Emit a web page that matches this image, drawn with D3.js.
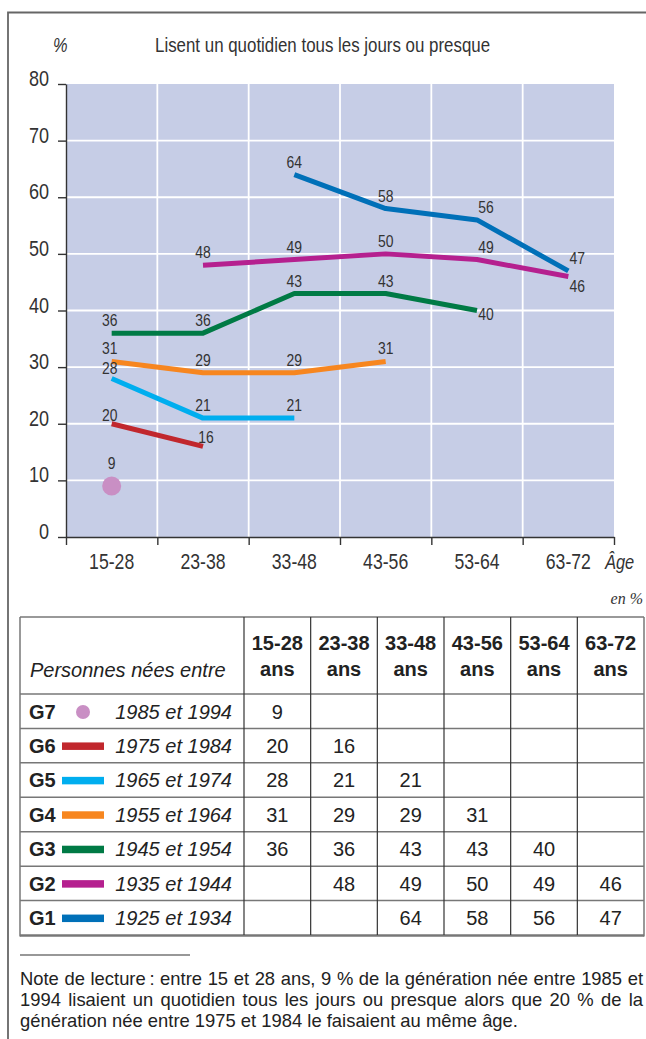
<!DOCTYPE html>
<html>
<head>
<meta charset="utf-8">
<script src="https://cdn.jsdelivr.net/npm/d3@7"></script>
<style>
  body { margin: 0; background: #fff; }
  svg { display: block; }
</style>
</head>
<body>
<svg id="chart"></svg>
<script>
// tranches d'age
var ages = ["15-28", "23-38", "33-48", "43-56", "53-64", "63-72"];
var generations = ["G7", "G6", "G5", "G4", "G3", "G2", "G1"];
var birthYears = ["1985 et 1994", "1975 et 1984", "1965 et 1974", "1955 et 1964",
                  "1945 et 1954", "1935 et 1944", "1925 et 1934"];
var genColors = ["#c98fc4", "#c1272d", "#00aeef", "#f7861f", "#007a45", "#b5208f", "#0070b8"];

// % lisant un quotidien, par tranche d'age (null = pas de valeur)
var g7 = [9, null, null, null, null, null];
var g6 = [20, 16, null, null, null, null];
var g5 = [28, 21, 21, null, null, null];
var g4 = [31, 29, 29, 31, null, null];
var g3 = [36, 36, 43, 43, 40, null];
var g2 = [null, 48, 49, 50, 49, 46];
var g1 = [null, null, 64, 58, 56, 47];
var series = [g7, g6, g5, g4, g3, g2, g1];

var yTicks = [0, 10, 20, 30, 40, 50, 60, 70, 80];

var sans = "'Liberation Sans', Arial, sans-serif";
var squeeze = 0.82;   // police etroite simulee

var W = 646, H = 1039;
var svg = d3.select("#chart").attr("width", W).attr("height", H);

// texte etroit : on comprime horizontalement autour du point d'ancrage
function narrow(sel, x, y){
  return sel.attr("x", 0).attr("y", 0)
    .attr("transform", "translate(" + x + "," + y + ") scale(" + squeeze + ",1)")
    .style("font-family", sans);
}

// cadre
svg.append("path")
  .attr("d", "M8," + H + "V12.5H" + W)
  .attr("fill", "none").attr("stroke", "#666").attr("stroke-width", 1.8);

var plot = {left: 66, right: 614, top: 84, bottom: 537};

var x = d3.scaleBand().domain(ages).range([plot.left, plot.right]);
var xb = d3.scaleLinear().domain([0, ages.length]).range([plot.left, plot.right]);
var y = d3.scaleLinear().domain([0, 80]).range([plot.bottom, plot.top]);

// titre
narrow(svg.append("text"), 53, 52)
  .style("font-size", "20px").style("font-style", "italic")
  .attr("fill", "#333").text("%");
narrow(svg.append("text"), 155, 52)
  .style("font-size", "20.6px")
  .attr("fill", "#333").text("Lisent un quotidien tous les jours ou presque");

// fond
svg.append("rect")
  .attr("x", plot.left).attr("y", plot.top)
  .attr("width", plot.right - plot.left).attr("height", plot.bottom - plot.top)
  .attr("fill", "#c6cde6");

// grille
svg.append("g").selectAll("line")
  .data(yTicks.filter(function(d){ return d > 0 && d < 80; }))
  .join("line")
  .attr("x1", plot.left).attr("x2", plot.right)
  .attr("y1", function(d){ return y(d); }).attr("y2", function(d){ return y(d); })
  .attr("stroke", "#fff").attr("stroke-width", 1.8);

svg.append("g").selectAll("line")
  .data(d3.range(1, ages.length))
  .join("line")
  .attr("x1", function(d){ return xb(d); }).attr("x2", function(d){ return xb(d); })
  .attr("y1", plot.top).attr("y2", plot.bottom)
  .attr("stroke", "#fff").attr("stroke-width", 1.8);

// axe y
var yAxis = svg.append("g")
  .attr("transform", "translate(" + plot.left + ",0)")
  .call(d3.axisLeft(y).tickValues(yTicks).tickSize(8).tickSizeOuter(0));
yAxis.selectAll("path, line").attr("stroke", "#333").attr("stroke-width", 1.4);
yAxis.selectAll("text").each(function(){
  narrow(d3.select(this), -17, 1.5).attr("dy", null);
});
yAxis.selectAll("text")
  .style("font-size", "22px").attr("fill", "#333").attr("text-anchor", "end");

// axe x : graduations aux limites des tranches
var xTickAxis = svg.append("g")
  .attr("transform", "translate(0," + plot.bottom + ")")
  .call(d3.axisBottom(xb).ticks(ages.length).tickFormat("").tickSize(8).tickSizeOuter(0));
xTickAxis.selectAll("path, line").attr("stroke", "#333").attr("stroke-width", 1.4);

var xLabAxis = svg.append("g")
  .attr("transform", "translate(0," + plot.bottom + ")")
  .call(d3.axisBottom(x).tickSize(0));
xLabAxis.select(".domain").remove();
xLabAxis.selectAll("text").each(function(){
  narrow(d3.select(this), 0, 32).attr("dy", null);
});
xLabAxis.selectAll("text").style("font-size", "21.5px").attr("fill", "#333");

narrow(svg.append("text"), 605, 569)
  .style("font-size", "20px").style("font-style", "italic")
  .attr("fill", "#333").text("Âge");

// courbes
var cx = function(i){ return x(ages[i]) + x.bandwidth() / 2; };
var line = d3.line()
  .defined(function(d){ return d != null; })
  .x(function(d, i){ return cx(i); })
  .y(function(d){ return y(d); });

var lines = svg.append("g");
series.forEach(function(s, gi){
  var n = s.filter(function(d){ return d != null; }).length;
  if (n > 1) {
    lines.append("path")
      .attr("d", line(s))
      .attr("fill", "none")
      .attr("stroke", genColors[gi])
      .attr("stroke-width", 5)
      .attr("stroke-linejoin", "round");
  } else {
    s.forEach(function(d, i){
      if (d == null) return;
      lines.append("circle")
        .attr("cx", cx(i)).attr("cy", y(d)).attr("r", 9.5)
        .attr("fill", genColors[gi]);
    });
  }
});

// etiquettes : decalages particuliers
var labelShift = {
  "0|0": [0, -23], "1|0": [-2, -9], "1|1": [3, -9], "2|0": [-2, -10],
  "4|4": [9, 3], "5|5": [9, 9]
};
var labels = svg.append("g").attr("fill", "#333").attr("text-anchor", "middle");
series.forEach(function(s, gi){
  s.forEach(function(d, i){
    if (d == null) return;
    var sh = labelShift[gi + "|" + i] || [i >= 4 ? 9 : (i == 0 ? -2 : 0), -13];
    narrow(labels.append("text"), cx(i) + sh[0], y(d) + sh[1] + 6)
      .style("font-size", "17px")
      .text(d);
  });
});

// tableau
svg.append("text").attr("x", 643).attr("y", 604).attr("text-anchor", "end")
  .style("font-family", "'Liberation Serif', 'DejaVu Serif', serif")
  .style("font-size", "16px").style("font-style", "italic")
  .attr("fill", "#333").text("en %");

var tab = {left: 20, split: 244, right: 644, top: 617, head: 694, bottom: 935};
var tc = d3.scaleBand().domain(ages).range([tab.split, tab.right]);
var tr = d3.scaleBand().domain(generations).range([tab.head, tab.bottom]);

var table = svg.append("g");

// lignes horizontales
table.selectAll("line.h")
  .data([tab.top, tab.head].concat(generations.slice(1).map(function(g){ return tr(g); })))
  .join("line").attr("class", "h")
  .attr("x1", tab.left).attr("x2", tab.right)
  .attr("y1", function(d){ return d; }).attr("y2", function(d){ return d; })
  .attr("stroke", "#777").attr("stroke-width", 1.5);
table.append("line")
  .attr("x1", tab.left).attr("x2", tab.right)
  .attr("y1", tab.bottom + 0.5).attr("y2", tab.bottom + 0.5)
  .attr("stroke", "#777").attr("stroke-width", 2.5);

// lignes verticales
table.selectAll("line.v")
  .data([tab.split].concat(ages.slice(1).map(function(a){ return tc(a); })))
  .join("line").attr("class", "v")
  .attr("x1", function(d){ return d; }).attr("x2", function(d){ return d; })
  .attr("y1", tab.top).attr("y2", tab.bottom)
  .attr("stroke", "#333").attr("stroke-width", 1.2);
table.selectAll("line.b")
  .data([tab.left, tab.right])
  .join("line").attr("class", "b")
  .attr("x1", function(d){ return d; }).attr("x2", function(d){ return d; })
  .attr("y1", tab.top).attr("y2", tab.bottom + 1.5)
  .attr("stroke", "#777").attr("stroke-width", 1.5);

// en-tete
table.append("text").attr("x", 30).attr("y", 677)
  .style("font-family", sans).style("font-size", "20px").style("font-style", "italic")
  .attr("fill", "#222").text("Personnes nées entre");
ages.forEach(function(a){
  var t = table.append("text")
    .attr("x", tc(a) + tc.bandwidth() / 2).attr("text-anchor", "middle")
    .style("font-family", sans).style("font-size", "20px").style("font-weight", "bold")
    .attr("fill", "#222");
  t.append("tspan").attr("x", tc(a) + tc.bandwidth() / 2).attr("y", 650).text(a);
  t.append("tspan").attr("x", tc(a) + tc.bandwidth() / 2).attr("y", 676).text("ans");
});

// lignes du tableau
generations.forEach(function(g, gi){
  var base = tr(g) + 24.5;
  table.append("text").attr("x", 29).attr("y", base)
    .style("font-family", sans).style("font-size", "20px").style("font-weight", "bold")
    .attr("fill", "#222").text(g);
  if (gi == 0) {
    table.append("circle").attr("cx", 83).attr("cy", base - 6.5).attr("r", 7)
      .attr("fill", genColors[gi]);
  } else {
    table.append("rect").attr("x", 62).attr("y", base - 10.5)
      .attr("width", 42).attr("height", 7.5)
      .attr("fill", genColors[gi]);
  }
  table.append("text").attr("x", 232).attr("y", base).attr("text-anchor", "end")
    .style("font-family", sans).style("font-size", "20px").style("font-style", "italic")
    .attr("fill", "#222").text(birthYears[gi]);
  series[gi].forEach(function(d, i){
    if (d == null) return;
    table.append("text")
      .attr("x", tc(ages[i]) + tc.bandwidth() / 2).attr("y", base)
      .attr("text-anchor", "middle")
      .style("font-family", sans).style("font-size", "20px")
      .attr("fill", "#222").text(d);
  });
});

// note de lecture
svg.append("line").attr("x1", 20).attr("x2", 190).attr("y1", 955).attr("y2", 955)
  .attr("stroke", "#333").attr("stroke-width", 1.2);

var noteLines = [
  "Note de lecture\u202f: entre 15 et 28 ans, 9 % de la génération née entre 1985 et",
  "1994 lisaient un quotidien tous les jours ou presque alors que 20 % de la",
  "génération née entre 1975 et 1984 le faisaient au même âge."
];
var note = svg.append("g")
  .style("font-family", sans).style("font-size", "18.4px").attr("fill", "#222");
noteLines.forEach(function(t, i){
  var tx = note.append("text").attr("x", 20).attr("y", 985 + i * 21).text(t);
  if (i < 2) {
    var w = tx.node().getComputedTextLength();
    var gaps = t.split(" ").length - 1;
    tx.style("word-spacing", ((623 - w) / gaps) + "px");
  }
});
</script>
</body>
</html>
